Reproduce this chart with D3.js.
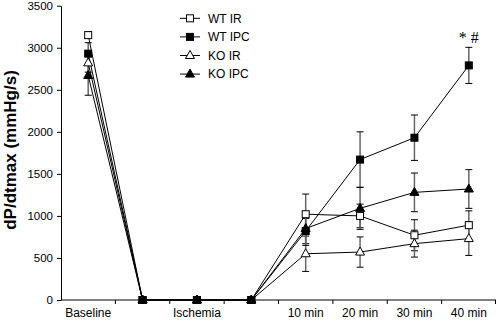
<!DOCTYPE html>
<html lang="en">
<head>
  <meta charset="UTF-8" />
  <title>dP/dtmax</title>
  <script src="https://d3js.org/d3.v7.min.js"></script>
  <style>
    body {
      margin: 0;
      background-color: #fff;
    }

    svg {
      display: block;
      font-family: "Liberation Sans", Arial, sans-serif;
    }
  </style>
</head>
<body>

<svg id="chart" width="498" height="320"></svg>

<script>
  const categories = ["Baseline", "Isch1", "Isch2", "Isch3", "10 min", "20 min", "30 min", "40 min"];
  const tickLabels = ["Baseline", "", "Ischemia", "", "10 min", "20 min", "30 min", "40 min"];
  const yTicks = [0, 500, 1000, 1500, 2000, 2500, 3000, 3500];

  const wtIR = [3150, 0, 0, 0, 1020, 1000, 770, 890];
  const wtIRErr = [40, 0, 0, 0, 240, 140, 185, 170];
  const wtIPC = [2930, 0, 0, 0, 820, 1670, 1930, 2790];
  const wtIPCErr = [130, 0, 0, 0, 150, 330, 270, 215];
  const koIR = [2820, 0, 0, 0, 550, 570, 670, 730];
  const koIRErr = [110, 0, 0, 0, 210, 180, 160, 200];
  const koIPC = [2670, 0, 0, 0, 850, 1090, 1280, 1320];
  const koIPCErr = [235, 0, 0, 0, 200, 250, 230, 230];

  const series = [
    { name: "WT IR", values: wtIR, err: wtIRErr, shape: "square", fill: "#fff" },
    { name: "WT IPC", values: wtIPC, err: wtIPCErr, shape: "square", fill: "#000" },
    { name: "KO IR", values: koIR, err: koIRErr, shape: "triangle", fill: "#fff" },
    { name: "KO IPC", values: koIPC, err: koIPCErr, shape: "triangle", fill: "#000" }
  ];

  const svg = d3.select("#chart");

  const x = d3.scaleBand().domain(categories).range([61, 496]);
  const y = d3.scaleLinear().domain([0, 3500]).range([300, 5.7]);
  const cx = d => x(d) + x.bandwidth() / 2;

  // axes
  const yAxis = svg.append("g")
    .attr("transform", "translate(61,0)")
    .call(d3.axisLeft(y).tickValues(yTicks).tickFormat(d3.format("d"))
      .tickSize(4).tickPadding(4).tickSizeOuter(0));
  yAxis.selectAll("text").style("font-size", "11.5px").attr("fill", "#000");
  yAxis.selectAll("line, path").attr("stroke", "#000");

  const xAxis = svg.append("g")
    .attr("transform", "translate(0,300)");
  xAxis.append("line")
    .attr("x1", 61).attr("x2", 496)
    .attr("stroke", "#000");
  xAxis.selectAll(".tk")
    .data(categories.slice(1).concat(["end"]))
    .enter().append("line")
    .attr("x1", (d, i) => i === categories.length - 1 ? x.range()[1] - 0.5 : x(d))
    .attr("x2", (d, i) => i === categories.length - 1 ? x.range()[1] - 0.5 : x(d))
    .attr("y1", 0).attr("y2", 4)
    .attr("stroke", "#000");
  xAxis.selectAll("text")
    .data(categories)
    .enter().append("text")
    .attr("x", d => cx(d))
    .attr("y", 17)
    .attr("text-anchor", "middle")
    .style("font-size", "12px")
    .text((d, i) => tickLabels[i]);

  svg.append("text")
    .attr("transform", "translate(16,150) rotate(-90)")
    .attr("text-anchor", "middle")
    .style("font-size", "17px")
    .style("font-weight", "bold")
    .text("dP/dtmax (mmHg/s)");

  const line = d3.line()
    .x((d, i) => cx(categories[i]))
    .y(d => y(d));

  function marker(g, s) {
    if (s.shape === "square") {
      g.append("rect")
        .attr("x", -3.5).attr("y", -3.5)
        .attr("width", 7).attr("height", 7)
        .attr("fill", s.fill).attr("stroke", "#000").attr("stroke-width", 1);
    } else {
      g.append("path")
        .attr("d", "M0,-5L4.5,3L-4.5,3Z")
        .attr("fill", s.fill).attr("stroke", "#000").attr("stroke-width", 1);
    }
  }

  // error bars
  series.forEach(s => {
    const eb = svg.append("g").attr("class", "err");
    s.values.forEach((v, i) => {
      if (!s.err[i]) return;
      const xx = cx(categories[i]);
      eb.append("line")
        .attr("x1", xx).attr("x2", xx)
        .attr("y1", y(v - s.err[i])).attr("y2", y(v + s.err[i]))
        .attr("stroke", "#666").attr("stroke-width", 1.5);
      [v - s.err[i], v + s.err[i]].forEach(e => {
        eb.append("line")
          .attr("x1", xx - 3.5).attr("x2", xx + 3.5)
          .attr("y1", y(e)).attr("y2", y(e))
          .attr("stroke", "#000").attr("stroke-width", 1);
      });
    });
  });

  // lines and markers
  series.forEach(s => {
    svg.append("path")
      .datum(s.values)
      .attr("d", line)
      .attr("fill", "none")
      .attr("stroke", "#000")
      .attr("stroke-width", 1);
  });
  series.forEach(s => {
    s.values.forEach((v, i) => {
      const g = svg.append("g").attr("transform", `translate(${cx(categories[i])},${y(v)})`);
      marker(g, s);
    });
  });

  // legend
  const legend = svg.append("g");
  series.forEach((s, i) => {
    const row = legend.append("g").attr("transform", `translate(190,${18.3 + i * 18.6})`);
    row.append("line").attr("x1", -10).attr("x2", 10).attr("stroke", "#000");
    marker(row, s);
    row.append("text")
      .attr("x", 18).attr("dy", "0.35em")
      .style("font-size", "12px")
      .text(s.name);
  });

  svg.append("text")
    .attr("x", cx("40 min"))
    .attr("y", 43)
    .attr("text-anchor", "middle")
    .attr("fill", "#000")
    .style("font-family", "'Liberation Serif', 'Times New Roman', serif")
    .style("font-size", "16px")
    .text("* #");
</script>

</body>
</html>
